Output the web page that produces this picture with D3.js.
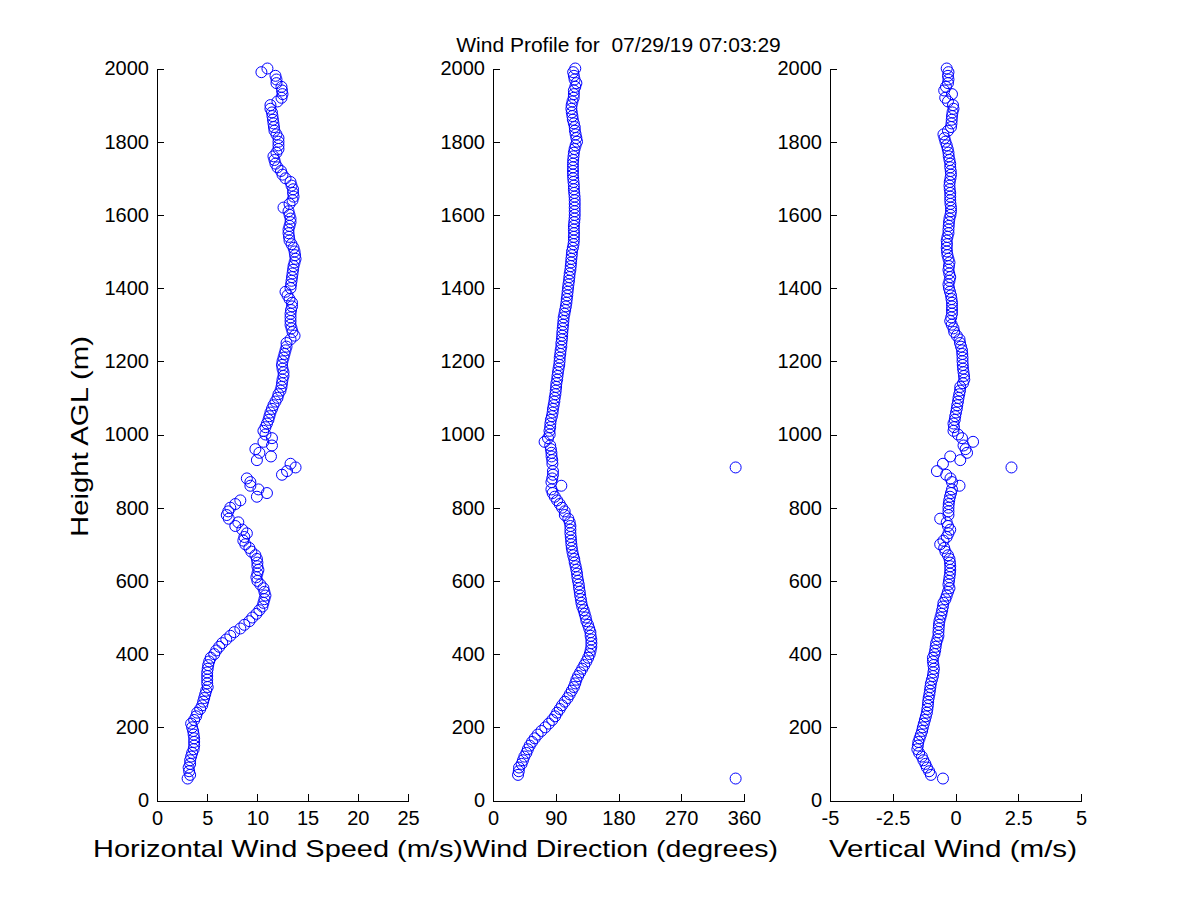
<!DOCTYPE html>
<html>
<head>
<meta charset="utf-8">
<script src="https://cdn.jsdelivr.net/npm/d3@7"></script>
<style>
  body { margin: 0; background: #fff; }
  svg text { font-family: "Liberation Sans", Arial, Helvetica, sans-serif; fill: #000; }
</style>
</head>
<body>
<div id="profile"></div>
<script>
(function() {

// range gates (m AGL)
const heights = [
  60, 70, 80, 90, 100, 110, 120, 130, 140, 150,
  160, 170, 180, 190, 200, 210, 220, 230, 240, 250,
  260, 270, 280, 290, 300, 310, 320, 330, 340, 350,
  360, 370, 380, 390, 400, 410, 420, 430, 440, 450,
  460, 470, 480, 490, 500, 510, 520, 530, 540, 550,
  560, 570, 580, 590, 600, 610, 620, 630, 640, 650,
  660, 670, 680, 690, 700, 710, 720, 730, 740, 750,
  760, 770, 780, 790, 800, 810, 820, 830, 840, 850,
  860, 870, 880, 890, 900, 910, 920, 930, 940, 950,
  960, 970, 980, 990, 1000, 1010, 1020, 1030, 1040, 1050,
  1060, 1070, 1080, 1090, 1100, 1110, 1120, 1130, 1140, 1150,
  1160, 1170, 1180, 1190, 1200, 1210, 1220, 1230, 1240, 1250,
  1260, 1270, 1280, 1290, 1300, 1310, 1320, 1330, 1340, 1350,
  1360, 1370, 1380, 1390, 1400, 1410, 1420, 1430, 1440, 1450,
  1460, 1470, 1480, 1490, 1500, 1510, 1520, 1530, 1540, 1550,
  1560, 1570, 1580, 1590, 1600, 1610, 1620, 1630, 1640, 1650,
  1660, 1670, 1680, 1690, 1700, 1710, 1720, 1730, 1740, 1750,
  1760, 1770, 1780, 1790, 1800, 1810, 1820, 1830, 1840, 1850,
  1860, 1870, 1880, 1890, 1900, 1910, 1920, 1930, 1940, 1950,
  1960, 1970, 1980, 1990, 2000
];

// horizontal wind speed (m/s)
const speed = [
  3.05, 3.3, 3.2, 3.15, 3.3, 3.3, 3.4, 3.5, 3.65, 3.7,
  3.7, 3.7, 3.65, 3.6, 3.5, 3.4, 3.7, 3.9, 4.0, 4.3,
  4.5, 4.6, 4.7, 4.8, 4.9, 5.05, 5.0, 5.0, 5.0, 5.0,
  5.05, 5.1, 5.2, 5.35, 5.7, 5.9, 6.2, 6.5, 6.9, 7.3,
  7.7, 8.3, 8.7, 9.2, 9.5, 9.9, 10.2, 10.5, 10.6, 10.7,
  10.8, 10.7, 10.6, 10.3, 10.0, 9.9, 10.0, 10.1, 10.0, 10.0,
  9.95, 9.8, 9.4, 9.2, 8.8, 8.6, 8.7, 8.95, 8.5, 7.8,
  8.1, 7.15, 6.95, 7.1, 7.3, 7.8, 8.3, 9.95, 10.95, 10.1,
  9.3, 9.3, 8.95, 12.45, 12.95, 13.8, 13.3, 9.95, 11.35, 10.2,
  9.8, 11.45, 10.6, 11.45, 10.8, 10.6, 10.8, 10.95, 11.1, 11.2,
  11.3, 11.45, 11.6, 11.8, 12.0, 12.1, 12.3, 12.4, 12.45, 12.5,
  12.6, 12.6, 12.5, 12.45, 12.5, 12.6, 12.7, 12.8, 12.9, 12.9,
  13.3, 13.7, 13.5, 13.4, 13.3, 13.3, 13.3, 13.3, 13.35, 13.45,
  13.45, 13.2, 13.0, 12.8, 13.3, 13.35, 13.4, 13.45, 13.5, 13.55,
  13.6, 13.7, 13.8, 13.75, 13.7, 13.6, 13.4, 13.2, 13.15, 13.1,
  13.1, 13.2, 13.3, 13.3, 13.2, 13.1, 12.6, 13.2, 13.5, 13.6,
  13.55, 13.55, 13.4, 13.3, 12.8, 12.5, 12.35, 12.0, 11.8, 11.7,
  11.6, 11.9, 12.1, 12.1, 12.1, 12.1, 11.9, 11.7, 11.65, 11.6,
  11.55, 11.5, 11.45, 11.3, 11.3, 12.0, 12.4, 12.5, 12.45, 12.4,
  11.9, 11.9, 11.8, 10.4, 11.0
];

// wind direction (degrees)
const direction = [
  348, 35.9, 37, 37.3, 41, 43, 45, 47.9, 50, 52.6,
  56, 59.8, 64, 69.4, 75, 80, 85, 89, 92, 95.7,
  99, 103, 107, 110, 113, 116, 118, 119.6, 122, 125,
  128, 131, 134, 136.5, 138.7, 140, 141, 141.1, 141, 140,
  139.7, 138, 136.3, 134, 133, 131.5, 130, 128, 126.8, 126,
  125, 124.4, 123.5, 123, 122, 121, 120.5, 119.6, 118.5, 117.2,
  116.5, 115, 113.9, 113, 112.4, 112, 111.5, 111, 111, 111,
  110, 108, 103, 102.8, 99, 95.7, 92, 88.5, 85.5, 83.8,
  98, 83.8, 85, 86, 86, 348, 85.2, 85, 84, 83.8,
  83, 82, 74, 78.9, 81.3, 81, 82, 82.3, 83, 84.5,
  85.5, 86, 87, 88, 88.5, 89.5, 90, 90.5, 90.9, 92,
  92.5, 93.2, 94, 95, 95.5, 95.7, 96.5, 97, 98, 98.1,
  98.8, 99.2, 99.5, 100, 100.5, 101, 101.4, 102.5, 103.5, 104.5,
  105.3, 105.8, 106.5, 107, 107.6, 108.2, 109, 109.5, 110, 111,
  111.5, 112, 112.4, 113, 113.3, 114.5, 115.5, 116, 116, 116.2,
  116, 116, 116.5, 117, 117.2, 117.2, 117.2, 117.2, 117.2, 117,
  116.5, 116, 116, 115.5, 115, 114.7, 114.7, 114.7, 114.7, 115,
  115.5, 116, 117, 118.5, 120.5, 119.6, 118.5, 117.5, 117.2, 116,
  114.5, 113.9, 113, 112.4, 112.8, 114, 115.7, 116, 116, 118,
  119.6, 117, 116, 115, 118
];

// vertical wind (m/s)
const vertical = [
  -0.5, -0.98, -1.05, -1.14, -1.2, -1.28, -1.34, -1.45, -1.52, -1.5,
  -1.48, -1.43, -1.38, -1.33, -1.3, -1.26, -1.22, -1.18, -1.14, -1.12,
  -1.1, -1.09, -1.07, -1.04, -1.02, -1.0, -0.98, -0.94, -0.9, -0.88,
  -0.86, -0.88, -0.9, -0.9, -0.84, -0.81, -0.79, -0.77, -0.72, -0.68,
  -0.68, -0.67, -0.66, -0.64, -0.6, -0.56, -0.53, -0.5, -0.48, -0.4,
  -0.35, -0.3, -0.24, -0.28, -0.26, -0.24, -0.22, -0.21, -0.21, -0.22,
  -0.24, -0.3, -0.4, -0.45, -0.61, -0.48, -0.35, -0.28, -0.21, -0.3,
  -0.35, -0.61, -0.28, -0.28, -0.28, -0.27, -0.25, -0.22, -0.18, -0.14,
  0.16, -0.14, -0.2, -0.37, -0.74, 2.23, -0.5, 0.19, -0.21, 0.46,
  0.4, 0.32, 0.7, 0.26, 0.1, -0.08, -0.06, -0.08, -0.03, -0.01,
  0.02, 0.05, 0.07, 0.1, 0.12, 0.15, 0.18, 0.19, 0.3, 0.35,
  0.34, 0.32, 0.3, 0.29, 0.28, 0.28, 0.27, 0.26, 0.22, 0.18,
  0.16, 0.05, -0.05, -0.08, -0.15, -0.21, -0.17, -0.14, -0.14, -0.14,
  -0.14, -0.16, -0.18, -0.22, -0.26, -0.28, -0.24, -0.21, -0.25, -0.28,
  -0.26, -0.24, -0.28, -0.32, -0.34, -0.35, -0.34, -0.35, -0.32, -0.28,
  -0.28, -0.27, -0.26, -0.24, -0.2, -0.18, -0.18, -0.2, -0.21, -0.21,
  -0.21, -0.23, -0.24, -0.23, -0.2, -0.18, -0.19, -0.21, -0.21, -0.24,
  -0.27, -0.28, -0.31, -0.35, -0.4, -0.44, -0.48, -0.3, -0.18, -0.16,
  -0.15, -0.14, -0.12, -0.08, -0.1, -0.3, -0.41, -0.14, -0.45, -0.38,
  -0.3, -0.28, -0.3, -0.28, -0.35
];

// tick labels
const yTicks = [0, 200, 400, 600, 800, 1000, 1200, 1400, 1600, 1800, 2000];
const speedTicks = [0, 5, 10, 15, 20, 25];
const dirTicks = [0, 90, 180, 270, 360];
const vertTicks = [-5, -2.5, 0, 2.5, 5];

const title = "Wind Profile for  07/29/19 07:03:29";

// panel setup (left edge, data, domain, ticks, label, label span)
const panels = [
  { x0: 157, values: speed, domain: [0, 25], ticks: speedTicks, label: "Horizontal Wind Speed (m/s)", lx: 93, lw: 370 },
  { x0: 493, values: direction, domain: [0, 360], ticks: dirTicks, label: "Wind Direction (degrees)", lx: 463, lw: 315 },
  { x0: 830, values: vertical, domain: [-5, 5], ticks: vertTicks, label: "Vertical Wind (m/s)", lx: 829, lw: 248 }
];

const W = 1200, H = 900;
const top = 68.5, bottom = 800.5, pw = 251;

const svg = d3.select("#profile")
  .append("svg")
  .attr("width", W)
  .attr("height", H);

const y = d3.scaleLinear()
  .domain([0, 2000])
  .range([bottom, top]);

// plain hyphen minus like the original
const plain = function(d) { return String(d); };

panels.forEach(function(p) {
  const x = d3.scaleLinear()
    .domain(p.domain)
    .range([p.x0, p.x0 + pw]);

  const g = svg.append("g");

  // markers first, axes on top
  g.selectAll("circle")
    .data(heights)
    .join("circle")
    .attr("cx", function(h, j) { return x(p.values[j]); })
    .attr("cy", function(h) { return y(h); })
    .attr("r", 5.5)
    .attr("fill", "none")
    .attr("stroke", "#0000ff")
    .attr("stroke-width", 1);

  const xAxis = g.append("g")
    .attr("transform", `translate(0, ${bottom})`)
    .call(d3.axisBottom(x).tickValues(p.ticks).tickSize(-7).tickSizeOuter(0).tickPadding(10)
      .tickFormat(plain));

  const yAxis = g.append("g")
    .attr("transform", `translate(${p.x0}, 0)`)
    .call(d3.axisLeft(y).tickValues(yTicks).tickSize(-7).tickSizeOuter(0).tickPadding(8)
      .tickFormat(plain));

  [xAxis, yAxis].forEach(function(a) {
    a.selectAll("path, line")
      .attr("stroke", "#000")
      .attr("shape-rendering", "crispEdges");
    a.selectAll("text")
      .style("font-size", "20px");
  });

  // x label
  g.append("text")
    .attr("x", p.lx)
    .attr("y", 857)
    .attr("textLength", p.lw)
    .attr("lengthAdjust", "spacingAndGlyphs")
    .style("font-size", "24px")
    .text(p.label);
});

// y label
svg.append("text")
  .attr("transform", "translate(88, 537) rotate(-90)")
  .attr("textLength", 201)
  .attr("lengthAdjust", "spacingAndGlyphs")
  .style("font-size", "24px")
  .text("Height AGL (m)");

// title over middle panel
svg.append("text")
  .attr("x", 493 + pw / 2)
  .attr("y", 52)
  .attr("text-anchor", "middle")
  .style("font-size", "21px")
  .style("white-space", "pre")
  .text(title);

})();
</script>
</body>
</html>
